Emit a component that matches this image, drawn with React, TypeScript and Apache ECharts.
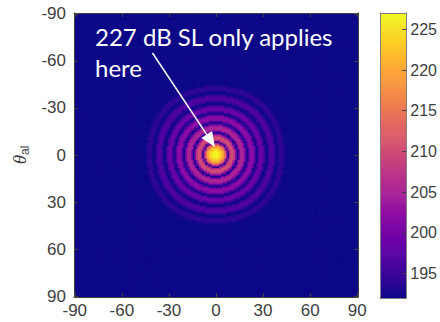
import React, { useEffect, useRef } from "react";
import * as echarts from "echarts";

// ---- data ----
const ANGLES: string[] = [];
for (let a = -90; a <= 90; a++) ANGLES.push(String(a));

const TICK_LABELS = ["-90", "-60", "-30", "0", "30", "60", "90"];
const CBAR_TICKS = [195, 200, 205, 210, 215, 220, 225];
const CBAR_MIN = 192;
const CBAR_MAX = 227;
const FLOOR_DB = 192;

const RADIAL_PROFILE_DB = [
  227, 226.7, 225.9, 224.4, 222.1, 218.8, 214, 205.5, 194, 206,
  210.5, 210, 207, 201, 192.5, 200, 205, 205.5, 204, 199.5,
  192.5, 196, 201.5, 202.5, 201.5, 198, 192.5, 194.5, 198.5, 199.5,
  198.5, 195.5, 192.5, 192.5, 195, 196.8, 197, 196, 194, 192,
  192.5, 194, 194.5, 194, 193, 192, 192,
];

const PLASMA = [
  "#0d0887", "#41049d", "#6a00a8", "#8f0da4", "#b12a90", "#cc4778",
  "#e16462", "#f2844b", "#fca636", "#fcce25", "#f0f921",
];

const ANNOTATION_1 = "227 dB SL only applies";
const ANNOTATION_2 = "here";

// ---- build tables ----
const D2R = Math.PI / 180;
const cells: number[][] = [];
for (let i = 0; i < ANGLES.length; i++) {
  for (let j = 0; j < ANGLES.length; j++) {
    const az = Number(ANGLES[i]);
    const el = Number(ANGLES[j]);
    const c = Math.cos(az * D2R) * Math.cos(el * D2R);
    const g = Math.acos(Math.max(-1, Math.min(1, c))) / D2R;
    const k = Math.round(g);
    const v = k < RADIAL_PROFILE_DB.length ? RADIAL_PROFILE_DB[k] : FLOOR_DB;
    cells.push([i, j, v]);
  }
}

const CBAR_STEP = 0.25;
const cbarLevels: number[][] = [];
for (let v = CBAR_MIN + CBAR_STEP / 2; v < CBAR_MAX; v += CBAR_STEP) {
  cbarLevels.push([0, v]);
}

const tickIdx = new Set(TICK_LABELS.map((t) => ANGLES.indexOf(t)));

const AX_COLOR = "#404040";
const LABEL_FONT = "'Liberation Sans', Arial, sans-serif";

export default function App() {
  const ref = useRef<HTMLDivElement>(null);
  useEffect(() => {
    if (!ref.current) return;
    const chart = echarts.init(ref.current, undefined, { renderer: "svg" });

    const catAxisCommon = (extra: any) => ({
      type: "category",
      data: ANGLES,
      z: 5,
      axisLine: { show: true, lineStyle: { color: AX_COLOR, width: 1 } },
      axisTick: {
        show: true,
        inside: true,
        length: 4,
        alignWithLabel: true,
        interval: (idx: number) => tickIdx.has(idx),
        lineStyle: { color: AX_COLOR },
      },
      splitLine: { show: false },
      ...extra,
    });

    const angleLabel = {
      interval: (idx: number) => tickIdx.has(idx),
      color: AX_COLOR,
      fontSize: 17,
      fontFamily: LABEL_FONT,
    };

    // arrow geometry (annotation)
    const sx = 152.5, sy = 53, tx = 215, ty = 147;
    const len = Math.hypot(tx - sx, ty - sy);
    const ux = (tx - sx) / len, uy = (ty - sy) / len;
    const hl = 15, hw = 6.5;
    const bx = tx - ux * hl, by = ty - uy * hl;

    chart.setOption({
      animation: false,
      backgroundColor: "#ffffff",
      grid: [
        { left: 74, top: 13, width: 284, height: 284, containLabel: false },
        { left: 380, top: 13, width: 28, height: 285, containLabel: false },
      ],
      xAxis: [
        catAxisCommon({ gridIndex: 0, position: "bottom", axisLabel: { ...angleLabel, margin: 5 } }),
        catAxisCommon({ gridIndex: 0, position: "top", axisLabel: { show: false } }),
        {
          type: "category",
          gridIndex: 1,
          data: ["c"],
          z: 5,
          axisLine: { show: true, lineStyle: { color: "#7f7f7f" } },
          axisTick: { show: false },
          axisLabel: { show: false },
        },
        {
          type: "category",
          gridIndex: 1,
          data: ["c"],
          position: "top",
          z: 5,
          axisLine: { show: true, lineStyle: { color: "#7f7f7f" } },
          axisTick: { show: false },
          axisLabel: { show: false },
        },
      ],
      yAxis: [
        catAxisCommon({
          gridIndex: 0,
          position: "left",
          inverse: true,
          axisLabel: { ...angleLabel, margin: 8 },
          name: "{t|θ}{s|al}",
          nameLocation: "middle",
          nameRotate: 90,
          nameGap: 41,
          nameTextStyle: {
            rich: {
              t: {
                fontSize: 19,
                fontStyle: "italic",
                fontFamily: "'Liberation Serif', 'DejaVu Serif', serif",
                color: AX_COLOR,
                lineHeight: 22,
              },
              s: {
                fontSize: 12,
                fontFamily: LABEL_FONT,
                color: AX_COLOR,
                lineHeight: 12,
                verticalAlign: "bottom",
              },
            },
          },
        }),
        catAxisCommon({ gridIndex: 0, position: "right", inverse: true, axisLabel: { show: false } }),
        {
          type: "value",
          gridIndex: 1,
          position: "right",
          min: CBAR_MIN,
          max: CBAR_MAX,
          splitNumber: 7,
          z: 5,
          axisLine: { show: true, lineStyle: { color: "#7f7f7f" } },
          axisTick: { show: true, inside: true, length: 4, lineStyle: { color: AX_COLOR } },
          axisLabel: {
            color: AX_COLOR,
            fontSize: 16,
            fontFamily: LABEL_FONT,
            margin: 4,
            showMinLabel: false,
            showMaxLabel: false,
            formatter: (v: number) => (CBAR_TICKS.includes(v) ? String(v) : ""),
          },
          splitLine: { show: false },
        },
        {
          type: "value",
          gridIndex: 1,
          position: "left",
          min: CBAR_MIN,
          max: CBAR_MAX,
          z: 5,
          axisLine: { show: true, lineStyle: { color: "#7f7f7f" } },
          axisTick: { show: false },
          axisLabel: { show: false },
          splitLine: { show: false },
        },
      ],
      visualMap: {
        type: "continuous",
        show: false,
        min: CBAR_MIN,
        max: CBAR_MAX,
        seriesIndex: [0, 1],
        inRange: { color: PLASMA },
      },
      series: [
        {
          type: "custom",
          xAxisIndex: 0,
          yAxisIndex: 0,
          data: cells,
          encode: { x: 0, y: 1 },
          progressive: 0,
          clip: true,
          silent: true,
          renderItem: (_p: any, api: any) => {
            const c = api.coord([api.value(0), api.value(1)]);
            const s = api.size([1, 1]);
            return {
              type: "rect",
              shape: { x: c[0] - s[0] / 2 - 0.35, y: c[1] - s[1] / 2 - 0.35, width: s[0] + 0.7, height: s[1] + 0.7 },
              style: { fill: api.visual("color") },
            };
          },
        },
        {
          type: "custom",
          xAxisIndex: 2,
          yAxisIndex: 2,
          data: cbarLevels,
          encode: { x: 0, y: 1 },
          silent: true,
          renderItem: (_p: any, api: any) => {
            const v = api.value(1);
            const top = api.coord([0, v + CBAR_STEP / 2]);
            const bot = api.coord([0, v - CBAR_STEP / 2]);
            const w = api.size([1, 0])[0];
            return {
              type: "rect",
              shape: { x: top[0] - w / 2, y: top[1], width: w, height: bot[1] - top[1] + 0.6 },
              style: { fill: api.visual("color") },
            };
          },
        },
      ],
      graphic: [
        {
          type: "text",
          left: 95,
          top: 24,
          z: 10,
          style: { text: ANNOTATION_1, fill: "#ffffff", font: "24px Lato, 'Open Sans', sans-serif" },
        },
        {
          type: "text",
          left: 95,
          top: 55,
          z: 10,
          style: { text: ANNOTATION_2, fill: "#ffffff", font: "24px Lato, 'Open Sans', sans-serif" },
        },
        {
          type: "line",
          z: 10,
          shape: { x1: sx, y1: sy, x2: bx + ux * 2, y2: by + uy * 2 },
          style: { stroke: "#ffffff", lineWidth: 1.5 },
        },
        {
          type: "polygon",
          z: 10,
          shape: {
            points: [
              [tx, ty],
              [bx - uy * hw, by + ux * hw],
              [bx + uy * hw, by - ux * hw],
            ],
          },
          style: { fill: "#ffffff" },
        },
      ],
    });
    return () => chart.dispose();
  }, []);
  return (
    <div
      ref={ref}
      style={{ position: "fixed", left: 0, top: 0, width: 440, height: 322 }}
    />
  );
}
